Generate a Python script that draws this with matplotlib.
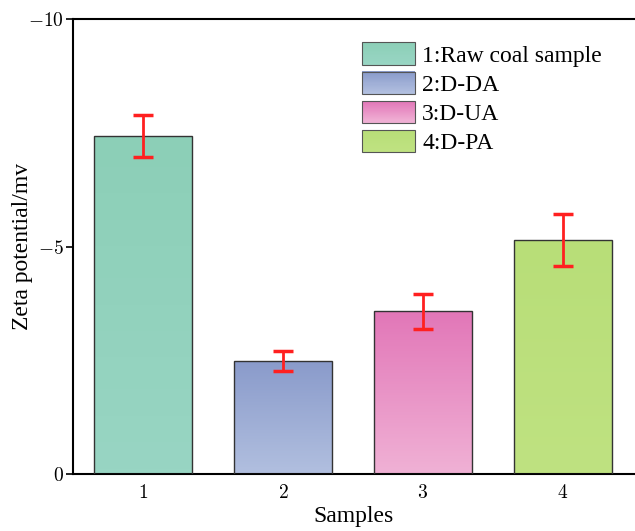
import numpy as np
import matplotlib
matplotlib.use("Agg")
import matplotlib.pyplot as plt
from matplotlib.colors import to_rgb
from matplotlib.legend_handler import HandlerBase
from matplotlib.patches import Rectangle

plt.rcParams['font.family'] = ['Liberation Serif', 'DejaVu Serif']
plt.rcParams['mathtext.fontset'] = 'cm'

samples = [1, 2, 3, 4]
zeta = [-7.43, -2.48, -3.58, -5.14]
err = [0.46, 0.22, 0.39, 0.57]
labels = ['1:Raw coal sample', '2:D-DA', '3:D-UA', '4:D-PA']
yticks = [0, -5, -10]
# (top colour, bottom colour)
grads = [('#8ccfb7', '#98d5c3'),
         ('#8a9bcb', '#b1bfdf'),
         ('#e277b8', '#f0b1d5'),
         ('#b8de78', '#bfe281')]


def grad_img(c_top, c_bot, n=64):
    a = np.array(to_rgb(c_bot))
    b = np.array(to_rgb(c_top))
    t = np.linspace(0, 1, n)[:, None]
    return (a + (b - a) * t)[:, None, :]


class GradHandler(HandlerBase):
    def __init__(self, ctop, cbot):
        super().__init__()
        self.ctop, self.cbot = ctop, cbot

    def create_artists(self, legend, orig, xd, yd, w, h, fs, trans):
        arts = []
        n = 20
        a = np.array(to_rgb(self.ctop))
        b = np.array(to_rgb(self.cbot))
        x0, y0 = -xd, -yd
        for i in range(n):
            c = a + (b - a) * i / (n - 1)
            r = Rectangle((x0, y0 + h - (i + 1) * h / n), w, h / n + 0.3,
                          facecolor=c, edgecolor='none', transform=trans)
            arts.append(r)
        arts.append(Rectangle((x0, y0), w, h, facecolor='none',
                              edgecolor='#555555', lw=0.8, transform=trans))
        return arts


fig, ax = plt.subplots(figsize=(6.35, 5.31), dpi=100)
fig.subplots_adjust(left=0.115, right=0.999, top=0.964, bottom=0.107)

width = 0.7
bars = ax.bar(samples, zeta, width=width, color='none', edgecolor='#333333',
              linewidth=1.0, zorder=3)
for b, (ct, cb) in zip(bars, grads):
    x0 = b.get_x()
    im = ax.imshow(grad_img(ct, cb), extent=(x0, x0 + width, 0, b.get_height()),
                   origin='lower', aspect='auto', zorder=2)
    im.set_clip_path(b)

ax.errorbar(samples, zeta, yerr=err, fmt='none', ecolor='#ff2020',
            elinewidth=2, capsize=7, capthick=2.5, zorder=4)

ax.set_xlim(0.5, 4.51)
ax.set_ylim(0, -10)
ax.set_xticks(samples)
ax.set_xticklabels(['$%d$' % s for s in samples])
ax.set_yticks(yticks)
ax.set_yticklabels(['$%d$' % v for v in yticks])
ax.tick_params(axis='x', direction='in', length=4, width=1.2, labelsize=14, pad=7)
ax.tick_params(axis='y', direction='out', length=5, width=1.2, labelsize=14, pad=1.5)
for s in ax.spines.values():
    s.set_linewidth(1.5)
ax.spines['right'].set_visible(False)

ax.set_xlabel('Samples', fontsize=17, labelpad=3)
ax.set_ylabel('Zeta potential/mv', fontsize=17)
ax.yaxis.set_label_coords(-0.072, 0.5)

handles = [Rectangle((0, 0), 1, 1) for _ in labels]
ax.legend(handles, labels, loc='upper left', bbox_to_anchor=(0.485, 0.985),
          frameon=False, fontsize=17, handlelength=2.25, handleheight=1.06,
          labelspacing=0.22, handletextpad=0.3, borderaxespad=0.3,
          handler_map={h: GradHandler(*g) for h, g in zip(handles, grads)})

fig.savefig('out.png', dpi=100)
